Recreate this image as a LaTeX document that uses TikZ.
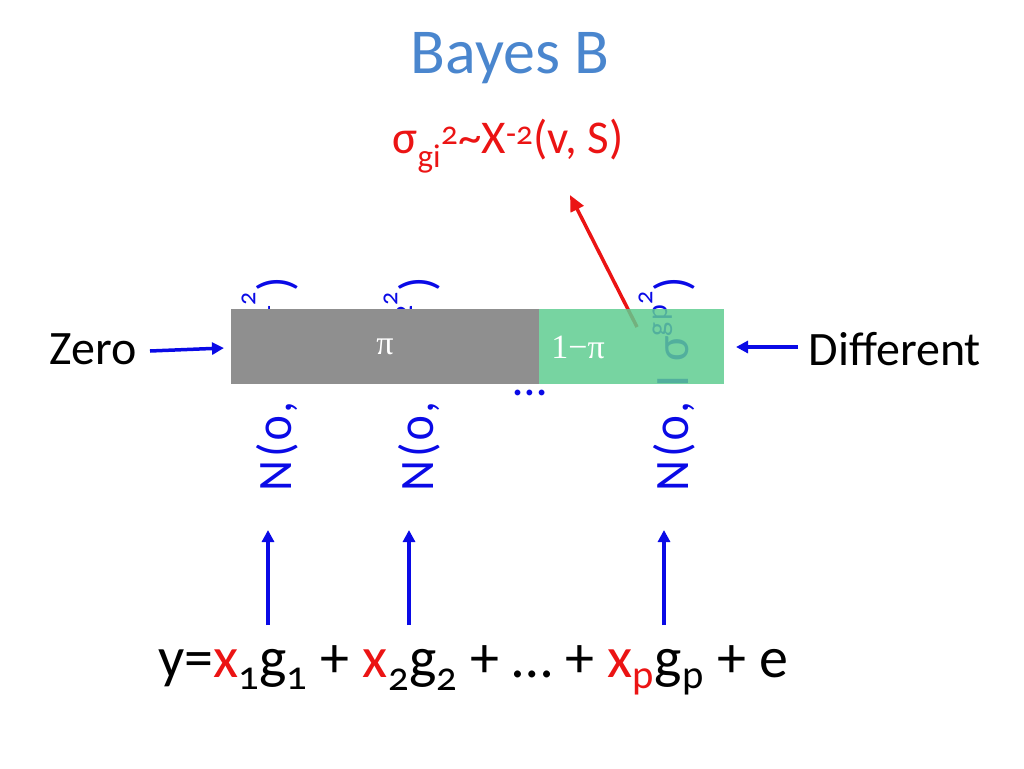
\documentclass[tikz,border=0pt]{standalone}
\usepackage{fontspec}
\setmainfont{Carlito}[Numbers=OldStyle]
\newfontfamily\serifpi{Liberation Serif}
\usetikzlibrary{arrows.meta}
\definecolor{ttl}{RGB}{74,134,206}
\definecolor{bblue}{RGB}{10,10,230}
\definecolor{rred}{RGB}{235,20,20}
\definecolor{bgray}{RGB}{143,143,143}
\definecolor{bgreen}{RGB}{95,205,145}
\newcommand{\sgsup}[1]{σ\raisebox{0.45em}{\fontsize{30}{34}\selectfont #1\raisebox{0.5em}{\fontsize{26}{30}\selectfont 2}}}
\tikzset{
  uparr/.style={-{Triangle[length=12pt,width=12pt]},line width=3.5pt,bblue},
  vtext/.style={rotate=90,anchor=west,text=bblue,font=\fontsize{48}{54}\selectfont\addfontfeatures{LetterSpace=6},inner sep=0pt},
  lbl/.style={font=\fontsize{48}{54}\selectfont,inner sep=0pt}
}
\begin{document}
\begin{tikzpicture}[x=1pt,y=-1pt]
\useasboundingbox (0,0) rectangle (1024,768);
\node[font=\fontsize{64}{70}\selectfont,text=ttl] (title) at (510,58) {Bayes B};
\node[font=\fontsize{47}{52}\selectfont,text=rred] (prior) at (508,146) {σ\textsubscript{gi}\textsuperscript{2}\textasciitilde X\textsuperscript{-2}(v, S)};
% vertical normal texts (under bar)
\node[vtext] (n1) at (270,492) {N(0, I \sgsup{g1})};
\node[vtext] (n2) at (412,492) {N(0, I \sgsup{g2})};
\node[vtext] (n3) at (667,492) {N(0, I \sgsup{gp})};
\coordinate (as) at (637,327);
\coordinate (ae) at (570,195);
\draw[-{Triangle[length=16pt,width=14pt]},line width=3.5pt,rred] (as) -- (ae);
% bar
\fill[bgray] (231,309) rectangle (539,384);
\fill[bgreen,opacity=0.85] (539,309) rectangle (724,384);
\node[text=white,font=\serifpi\fontsize{34}{38}\selectfont] (pi) at (385,347) {π};
\node[text=white,font=\serifpi\fontsize{34}{38}\selectfont] (pi2) at (578,347) {1−π};
\node[text=bblue,font=\fontsize{48}{52}\selectfont] (dots) at (530,393) {…};
\node[lbl] (zero) at (93,349) {Zero};
\node[lbl] (diff) at (895,349) {Different};
\coordinate (zb) at (224,348);
\coordinate (db) at (736,347);
\draw[uparr] (150,351) -- (zb);
\draw[uparr] (798,347) -- (db);
% equation
\node[font=\fontsize{58}{64}\selectfont] (eq) at (473,670) {y=\textcolor{rred}{x}\textsubscript{1}g\textsubscript{1} + \textcolor{rred}{x}\textsubscript{2}g\textsubscript{2} + … + \textcolor{rred}{x\textsubscript{p}}g\textsubscript{p} + e};
\coordinate (t1) at (268,530); \coordinate (t2) at (409,530); \coordinate (t3) at (664,530);
\draw[uparr] (268,625) -- (t1);
\draw[uparr] (409,625) -- (t2);
\draw[uparr] (664,625) -- (t3);
\end{tikzpicture}
\end{document}
